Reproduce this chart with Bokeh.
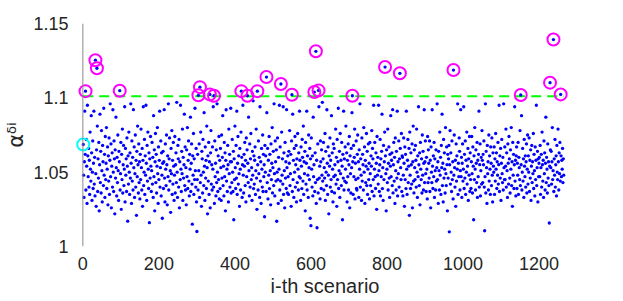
import numpy as np
from bokeh.plotting import figure
from bokeh.models import FixedTicker, CustomJSTickFormatter, Range1d, Span
from bokeh.embed import file_html
from bokeh.resources import INLINE

# scenario values, in thousandths above 1.0 (alpha^delta^i = 1 + v/1000)
base_milli = [
    69, 48, 33, 57, 91, 62, 45, 38, 72, 54, 29, 95, 61, 47, 66, 40, 58, 35, 77, 52, 44, 88, 63, 31, 50, 71, 39, 56, 91, 42,
    60, 34, 76, 49, 27, 65, 53, 81, 37, 59, 46, 70, 24, 55, 89, 43, 64, 36, 78, 51, 30, 68, 57, 41, 93, 48, 62, 33, 74, 45,
    56, 80, 39, 52, 67, 28, 61, 44, 73, 35, 58, 96, 47, 69, 26, 54, 63, 40, 92, 50, 37, 71, 59, 22, 65, 46, 87, 53, 34, 60,
    43, 75, 51, 31, 64, 57, 90, 38, 49, 70, 25, 62, 45, 79, 36, 55, 68, 41, 52, 94, 30, 66, 48, 59, 37, 73, 54, 17, 61, 42,
    77, 50, 35, 63, 46, 96, 56, 29, 71, 44, 60, 38, 92, 53, 67, 33, 49, 75, 40, 58, 21, 64, 47, 81, 55, 36, 69, 43, 57, 32,
    62, 45, 79, 53, 38, 66, 27, 58, 94, 41, 50, 72, 35, 61, 48, 95, 56, 31, 68, 44, 77, 52, 39, 63, 16, 59, 46, 74, 54, 37,
    51, 70, 42, 60, 33, 88, 47, 65, 24, 57, 76, 43, 62, 36, 54, 80, 49, 29, 67, 45, 58, 91, 40, 53, 71, 34, 63, 48, 19, 56,
    64, 39, 57, 92, 46, 30, 69, 52, 41, 75, 55, 28, 61, 47, 96, 38, 59, 73, 44, 51, 23, 66, 49, 78, 35, 58, 42, 70, 54, 31,
    48, 74, 36, 55, 63, 43, 97, 50, 33, 68, 59, 40, 72, 26, 57, 45, 95, 52, 37, 64, 49, 79, 31, 60, 46, 55, 89, 41, 67, 38,
    53, 28, 65, 47, 80, 39, 58, 71, 44, 34, 62, 52, 87, 37, 56, 69, 42, 15, 61, 48, 76, 35, 59, 45, 93, 51, 40, 66, 30, 57,
    45, 62, 38, 91, 51, 69, 33, 56, 43, 77, 48, 27, 64, 59, 36, 72, 50, 41, 90, 54, 31, 67, 46, 58, 39, 81, 53, 22, 61, 44,
    70, 35, 57, 49, 26, 63, 78, 42, 55, 38, 67, 52, 94, 40, 59, 29, 71, 47, 56, 34, 65, 43, 96, 50, 37, 61, 45, 74, 32, 58,
    39, 66, 53, 31, 75, 46, 60, 88, 41, 54, 34, 70, 47, 63, 24, 58, 92, 44, 52, 37, 68, 55, 30, 79, 49, 62, 40, 57, 93, 36,
    57, 43, 72, 50, 37, 64, 18, 59, 45, 81, 53, 39, 68, 46, 91, 35, 56, 74, 42, 61, 49, 27, 66, 52, 38, 77, 44, 60, 33, 55,
    95, 48, 36, 62, 54, 70, 41, 58, 30, 73, 47, 65, 23, 56, 43, 87, 51, 34, 69, 40, 59, 76, 45, 53, 31, 64, 48, 98, 39, 61,
    42, 58, 67, 35, 51, 79, 46, 25, 63, 55, 38, 71, 49, 60, 33, 94, 44, 57, 29, 66, 52, 40, 75, 37, 62, 47, 55, 20, 68, 50,
    61, 37, 54, 90, 43, 66, 32, 58, 48, 74, 39, 62, 51, 28, 69, 45, 56, 80, 36, 53, 64, 41, 96, 49, 34, 71, 57, 44, 65, 17,
    50, 73, 45, 29, 60, 52, 95, 38, 67, 44, 55, 31, 77, 48, 59, 42, 94, 35, 63, 51, 26, 70, 46, 57, 39, 92, 53, 36, 61, 47,
    35, 64, 56, 78, 41, 49, 62, 27, 71, 53, 37, 89, 45, 58, 33, 66, 50, 74, 40, 55, 68, 30, 59, 43, 76, 52, 38, 63, 47, 91,
    58, 46, 31, 67, 54, 39, 72, 60, 44, 81, 35, 57, 49, 64, 24, 70, 42, 56, 91, 38, 61, 48, 33, 75, 53, 45, 66, 19, 59, 41,
    73, 52, 40, 61, 34, 87, 47, 55, 68, 37, 63, 43, 78, 29, 58, 51, 45, 69, 36, 62, 94, 46, 54, 32, 71, 57, 39, 65, 48, 97,
    44, 59, 70, 38, 53, 46, 76, 31, 64, 50, 41, 92, 56, 35, 67, 48, 22, 61, 54, 73, 40, 58, 45, 88, 37, 63, 52, 30, 69, 47,
    66, 36, 55, 48, 79, 42, 60, 27, 72, 45, 57, 93, 39, 51, 64, 33, 76, 49, 58, 41, 70, 54, 18, 62, 46, 91, 38, 59, 44, 67,
    52, 81, 43, 63, 30, 58, 47, 69, 38, 55, 74, 26, 61, 49, 36, 66, 53, 90, 42, 57, 35, 68, 47, 60, 79, 32, 56, 45, 71, 39,
    38, 62, 75, 46, 57, 33, 65, 52, 96, 40, 59, 48, 31, 73, 44, 62, 55, 38, 80, 50, 67, 29, 58, 43, 54, 76, 41, 64, 35, 52,
    69, 45, 56, 32, 70, 49, 41, 61, 54, 78, 37, 66, 59, 45, 95, 34, 52, 70, 47, 39, 63, 56, 25, 74, 48, 60, 42, 95, 51, 37,
    55, 72, 34, 59, 47, 64, 89, 39, 53, 31, 68, 45, 57, 77, 36, 61, 49, 24, 65, 52, 43, 79, 38, 56, 67, 46, 33, 62, 54, 88,
    47, 58, 63, 41, 92, 36, 55, 70, 44, 60, 29, 73, 51, 38, 64, 46, 91, 34, 57, 49, 71, 40, 59, 30, 66, 53, 45, 76, 37, 61,
    60, 34, 48, 73, 56, 27, 67, 45, 62, 39, 91, 52, 35, 58, 72, 43, 54, 66, 21, 77, 48, 39, 63, 55, 42, 69, 26, 57, 81, 44,
    36, 65, 53, 45, 68, 58, 40, 79, 50, 33, 61, 47, 94, 55, 41, 63, 28, 70, 52, 45, 59, 36, 75, 48, 64, 38, 56, 92, 43, 57,
    71, 49, 37, 60, 52, 32, 74, 43, 65, 56, 46, 71, 37, 58, 26, 67, 50, 43, 92, 54, 39, 61, 47, 70, 33, 59, 51, 38, 65, 44,
    53, 96, 45, 57, 29, 64, 51, 38, 77, 48, 60, 35, 68, 53, 89, 41, 56, 30, 72, 46, 63, 52, 36, 80, 49, 41, 67, 55, 24, 62,
    46, 59, 68, 34, 55, 78, 42, 63, 50, 37, 71, 45, 57, 32, 64, 48, 75, 53, 40, 58, 27, 69, 44, 61, 52, 96, 35, 56, 47, 73,
    64, 38, 51, 92, 47, 60, 33, 56, 69, 44, 52, 94, 39, 62, 46, 71, 35, 58, 50, 77, 42, 54, 66, 31, 59, 48, 74, 37, 63, 45,
    39, 57, 74, 49, 36, 67, 54, 18, 61, 45, 80, 52, 38, 65, 56, 43, 70, 33, 58, 47, 62, 91, 40, 55, 69, 34, 51, 60, 42, 78,
    58, 43, 62, 55, 71, 40, 59, 47, 96, 36, 64, 53, 29, 68, 49, 57, 38, 75, 44, 61, 52, 35, 67, 56, 41, 73, 48, 30, 63, 54,
    50, 67, 35, 59, 44, 76, 52, 63, 39, 57, 48, 70, 42, 55, 95, 37, 61, 46, 66, 31, 56, 72, 49, 43, 60, 38, 96, 53, 45, 67,
    45, 54, 79, 40, 63, 51, 33, 69, 56, 42, 74, 59, 46, 36, 65, 52, 80, 41, 57, 27, 70, 48, 62, 39, 55, 94, 44, 58, 34, 61,
    67, 39, 56, 48, 70, 35, 60, 53, 45, 78, 41, 63, 55, 88, 38, 50, 66, 44, 59, 33, 72, 54, 47, 61, 40, 57, 69, 36, 52, 75,
    42, 61, 50, 73, 37, 58, 46, 65, 31, 54, 68, 43, 57, 49, 76, 39, 62, 51, 34, 67, 45, 58, 95, 41, 53, 64, 30, 59, 47, 56,
    60, 47, 68, 35, 53, 62, 40, 77, 55, 44, 58, 33, 71, 49, 63, 38, 56, 87, 43, 60, 52, 36, 69, 46, 57, 41, 74, 54, 28, 65,
    53, 64, 42, 57, 80, 45, 51, 66, 37, 59, 48, 72, 40, 55, 61, 34, 68, 50, 45, 79, 57, 38, 63, 49, 70, 44, 56, 61, 47, 58,
    52, 66, 43, 59, 48,
]

# individually read scenarios (index, value): the highs above the threshold and the lowest ones
read_idx = [7, 33, 37, 97, 304, 308, 334, 345, 417, 433, 459, 483, 521, 550, 609, 613, 620,
            709, 795, 834, 975, 1152, 1229, 1238, 1257,
            300, 600, 616, 964, 1057, 1227]
read_val = [1.1045, 1.1253, 1.1199, 1.1048, 1.1017, 1.1072, 1.1023, 1.1014, 1.1045, 1.1014,
            1.1045, 1.1140, 1.1093, 1.1021, 1.1039, 1.1313, 1.1050,
            1.1014, 1.1207, 1.1165, 1.1187, 1.1019, 1.1102, 1.1392, 1.1023,
            1.0101, 1.0140, 1.0126, 1.0099, 1.0106, 1.0158]

nominal_idx = 1
nominal_val = 1.0686
threshold = 1.101

x_ticks = [0, 200, 400, 600, 800, 1000, 1200]
y_ticks = [1, 1.05, 1.1, 1.15]
x_label = "i-th scenario"
y_label = "αᵟⁱ"

vals = 1 + np.array(base_milli, dtype=float) / 1000.0
for i, v in zip(read_idx, read_val):
    vals[i - 1] = v
vals[nominal_idx - 1] = nominal_val
xs = np.arange(1, len(vals) + 1)
high = vals > threshold

FONT = "Liberation Sans"
TXT = "#262626"

p = figure(width=623, height=301, output_backend="svg", toolbar_location=None,
           x_range=Range1d(-22, 1296), y_range=Range1d(1, 1.15),
           min_border_left=74, min_border_right=48, min_border_top=23, min_border_bottom=55)
p.outline_line_color = None
p.xgrid.visible = False
p.ygrid.visible = False
p.background_fill_color = "white"
p.border_fill_color = "white"

p.xaxis.ticker = FixedTicker(ticks=x_ticks)
p.yaxis.ticker = FixedTicker(ticks=y_ticks)
p.yaxis.formatter = CustomJSTickFormatter(code="return String(Number(tick.toFixed(2)));")
for ax in (p.xaxis[0], p.yaxis[0]):
    ax.major_tick_line_color = None
    ax.minor_tick_line_color = None
    ax.axis_line_color = None
    ax.major_label_text_font = FONT
    ax.major_label_text_font_size = "18px"
    ax.major_label_text_color = TXT
p.xaxis.major_label_standoff = 4
p.yaxis.major_label_standoff = 0

p.xaxis.axis_label = x_label
p.xaxis.axis_label_text_font = FONT
p.xaxis.axis_label_text_font_size = "20px"
p.xaxis.axis_label_text_font_style = "normal"
p.xaxis.axis_label_text_color = TXT
p.xaxis.axis_label_standoff = 2

p.yaxis.axis_label = y_label
p.yaxis.axis_label_text_font = "DejaVu Sans"
p.yaxis.axis_label_text_font_size = "21px"
p.yaxis.axis_label_text_font_style = "normal"
p.yaxis.axis_label_text_color = TXT
p.yaxis.axis_label_standoff = 2

# y axis line at x = 0
p.add_layout(Span(location=0, dimension="height", line_color="#8a8a8a", line_width=1))

p.line([xs[0], xs[-1]], [threshold, threshold], line_color="#00ff00", line_width=2, line_dash="10 6")
p.scatter(xs, vals, marker="circle", size=3.3, fill_color="#0000ff", line_color=None)
p.scatter(xs[high], vals[high], marker="circle", size=12, fill_color=None, line_color="#ff00ff", line_width=2)
p.scatter(xs[nominal_idx - 1:nominal_idx], vals[nominal_idx - 1:nominal_idx], marker="circle", size=12,
          fill_color=None, line_color="#00ffff", line_width=2)

open("out.html", "w").write(file_html(p, INLINE))
